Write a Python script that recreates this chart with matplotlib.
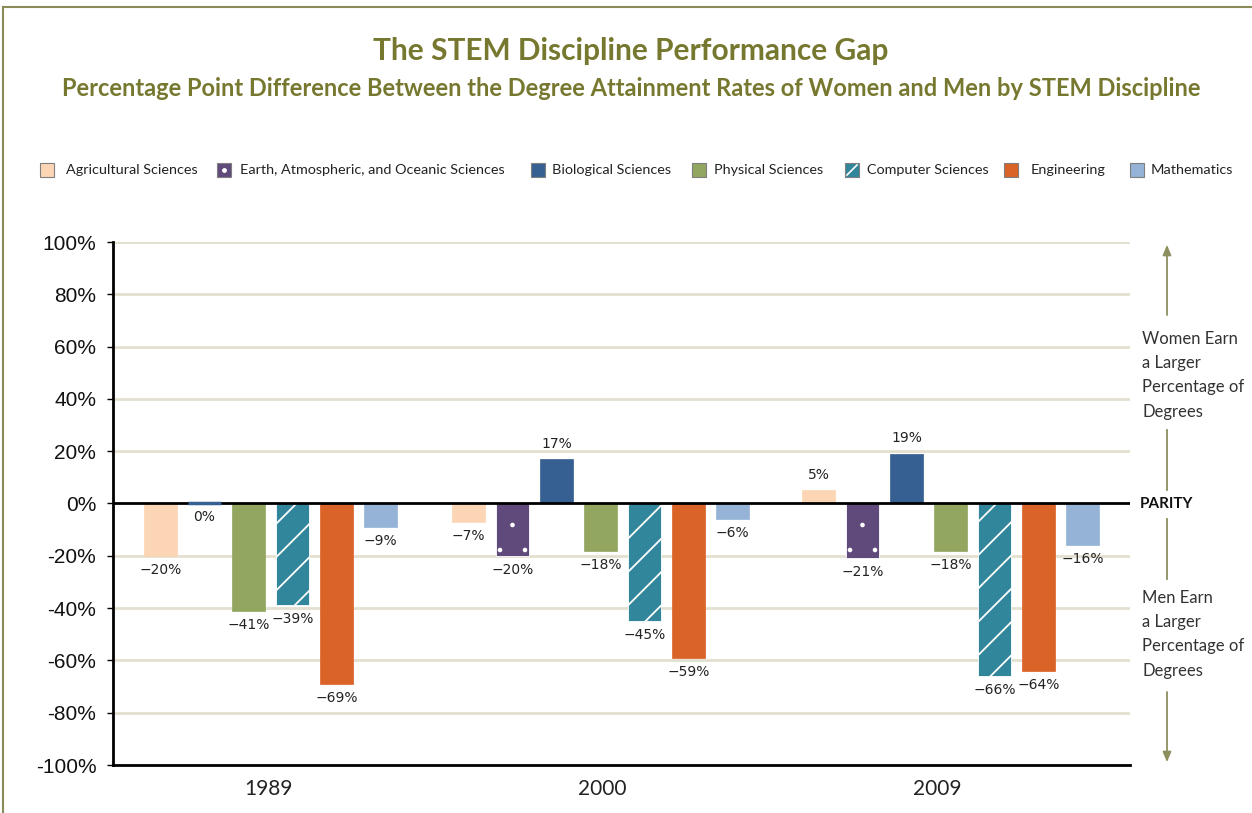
import numpy as np
import matplotlib
matplotlib.use("Agg")
import matplotlib.pyplot as plt
import matplotlib.hatch as mhatch
from matplotlib.patches import Rectangle
from matplotlib.lines import Line2D

# ---------------- data ----------------
years = ["1989", "2000", "2009"]
series_names = ["Agricultural Sciences", "Earth, Atmospheric, and Oceanic Sciences",
                "Biological Sciences", "Physical Sciences", "Computer Sciences",
                "Engineering", "Mathematics"]
agricultural = [-20, -7, 5]
earth = [np.nan, -20, -21]
biological = [0, 17, 19]
physical = [-41, -18, -18]
computer = [-39, -45, -66]
engineering = [-69, -59, -64]
mathematics = [-9, -6, -16]
y_ticks = [100, 80, 60, 40, 20, 0, -20, -40, -60, -80, -100]

series_values = [agricultural, earth, biological, physical, computer, engineering, mathematics]
colors = ["#FCD5B5", "#604A7B", "#376092", "#93A660", "#31869B", "#DA6328", "#95B3D7"]
hatches = [None, ".", None, None, "/", None, None]

# sparser dot hatch (like the reference)
def _dots_init(self, hatch, density):
    self.num_rows = int(hatch.count('.') * density * 2 // 3)
    self.size = 0.055
    mhatch.Circles.__init__(self, hatch, density)
    if self.num_rows:
        nr = self.num_rows
        shapes = sum((nr + 1) if r % 2 == 0 else nr for r in range(nr + 1))
        self.num_shapes = shapes
        self.num_vertices = shapes * len(self.shape_vertices) * (1 if self.filled else 2)
mhatch.SmallFilledCircles.__init__ = _dots_init

plt.rcParams["hatch.linewidth"] = 1.3
W, H = 1252, 813
fig = plt.figure(figsize=(W / 100, H / 100), dpi=100)
fig.patch.set_facecolor("white")

def fx(px):
    return px / W

def fy(py):
    return 1 - py / H

ax = fig.add_axes([fx(113), fy(765), fx(1130) - fx(113), fy(242) - fy(765)])
ax.set_xlim(0, 1017)
ax.set_ylim(-100, 100)

group_centers = [157.5, 487.5, 837.5]
label_centers = [155, 489, 824]
step, width = 44, 33

# gridlines
for t in y_ticks:
    if t in (0, -100):
        continue
    ax.axhline(t, color="#E3E0CF", lw=2, zorder=0)

title_color = "#77782F"
label_font = "DejaVu Sans"

for g, center in enumerate(group_centers):
    avail = [i for i in range(len(series_values)) if not np.isnan(series_values[i][g])]
    n = len(avail)
    for k, i in enumerate(avail):
        v = series_values[i][g]
        x = center + (k - (n - 1) / 2) * step
        ec = "white" if hatches[i] else colors[i]
        ax.bar(x, v, width=width, color=colors[i], edgecolor=ec,
               linewidth=0.6 if hatches[i] else (2.5 if v == 0 else 0.5),
               hatch=hatches[i], zorder=4 if v == 0 else 2)
        txt = "\u2212%d%%" % abs(v) if v < 0 else "%d%%" % v
        if v > 0:
            ax.annotate(txt, (x, v), xytext=(0, 6), textcoords="offset points",
                        ha="center", va="bottom", fontsize=10, family=label_font, color="#222222")
        else:
            ax.annotate(txt, (x, v), xytext=(0, -5), textcoords="offset points",
                        ha="center", va="top", fontsize=10, family=label_font, color="#222222")

# zero and bottom lines
ax.axhline(0, color="black", lw=2, zorder=3)
ax.axhline(-100, color="black", lw=2, zorder=3, clip_on=False)

for s in ["top", "right", "bottom"]:
    ax.spines[s].set_visible(False)
ax.spines["left"].set_color("black")
ax.spines["left"].set_linewidth(2)

ax.set_yticks(y_ticks)
ax.set_yticklabels(["%d%%" % t for t in y_ticks], fontsize=15, family="Liberation Sans", color="#111111")
ax.tick_params(axis="y", length=4, width=1, pad=8, color="black")
ax.set_xticks(label_centers)
ax.set_xticklabels(years, fontsize=15, family="Lato", color="#222222")
ax.tick_params(axis="x", length=0, pad=10)

# right side annotations
ax.text(1027, 0, "PARITY", fontsize=11, fontweight="bold", family="Lato",
        va="center", ha="left", color="#111111", clip_on=False)
ax.text(1029, 49, "Women Earn\na Larger\nPercentage of\nDegrees", fontsize=12, family="Lato",
        va="center", ha="left", color="#333333", linespacing=1.63, clip_on=False)
ax.text(1029, -50, "Men Earn\na Larger\nPercentage of\nDegrees", fontsize=12, family="Lato",
        va="center", ha="left", color="#333333", linespacing=1.63, clip_on=False)
arrow_col = "#8E8F5E"
ax.annotate("", xy=(1054, 100), xytext=(1054, 71), annotation_clip=False,
            arrowprops=dict(arrowstyle="-|>,head_length=0.6,head_width=0.25", color=arrow_col, lw=1.3))
ax.annotate("", xy=(1054, -100), xytext=(1054, -71), annotation_clip=False,
            arrowprops=dict(arrowstyle="-|>,head_length=0.6,head_width=0.25", color=arrow_col, lw=1.3))
ax.plot([1054, 1054], [28, 5], color=arrow_col, lw=1.3, clip_on=False)
ax.plot([1054, 1054], [-6, -29], color=arrow_col, lw=1.3, clip_on=False)

# titles
fig.text(fx(631), fy(51), "The STEM Discipline Performance Gap", ha="center", va="center",
         fontsize=21.5, fontweight="bold", family="Lato", color=title_color)
fig.text(fx(631), fy(88), "Percentage Point Difference Between the Degree Attainment Rates of Women and Men by STEM Discipline",
         ha="center", va="center", fontsize=17, fontweight="bold", family="Lato", color=title_color)

# legend (manual)
sq_left = [40, 217, 531, 692, 845, 1004, 1130]
txt_left = [66, 240, 552, 714, 867, 1031, 1151]
for i, name in enumerate(series_names):
    r = Rectangle((fx(sq_left[i]), fy(177)), fx(14), 14 / H, transform=fig.transFigure,
                  facecolor=colors[i], edgecolor="#7F7F7F", lw=0.8, figure=fig)
    fig.patches.append(r)
    if hatches[i] == "/":
        fig.add_artist(Line2D([fx(sq_left[i] + 2), fx(sq_left[i] + 12)], [fy(175), fy(165)],
                              color="white", lw=1.2, transform=fig.transFigure))
    if hatches[i] == ".":
        fig.add_artist(Line2D([fx(sq_left[i] + 7)], [fy(170)], marker="o", markersize=2.5,
                              color="white", transform=fig.transFigure))
    fig.text(fx(txt_left[i]), fy(170), name, ha="left", va="center", fontsize=10.4,
             family="Lato", color="#222222")

# outer frame lines
fig.add_artist(Line2D([fx(3), 1], [fy(7), fy(7)], color="#8B8B5A", lw=1.5, transform=fig.transFigure))
fig.add_artist(Line2D([fx(3), fx(3)], [fy(7), 0], color="#8B8B5A", lw=1.5, transform=fig.transFigure))

fig.savefig("out.png", dpi=100, facecolor="white")
